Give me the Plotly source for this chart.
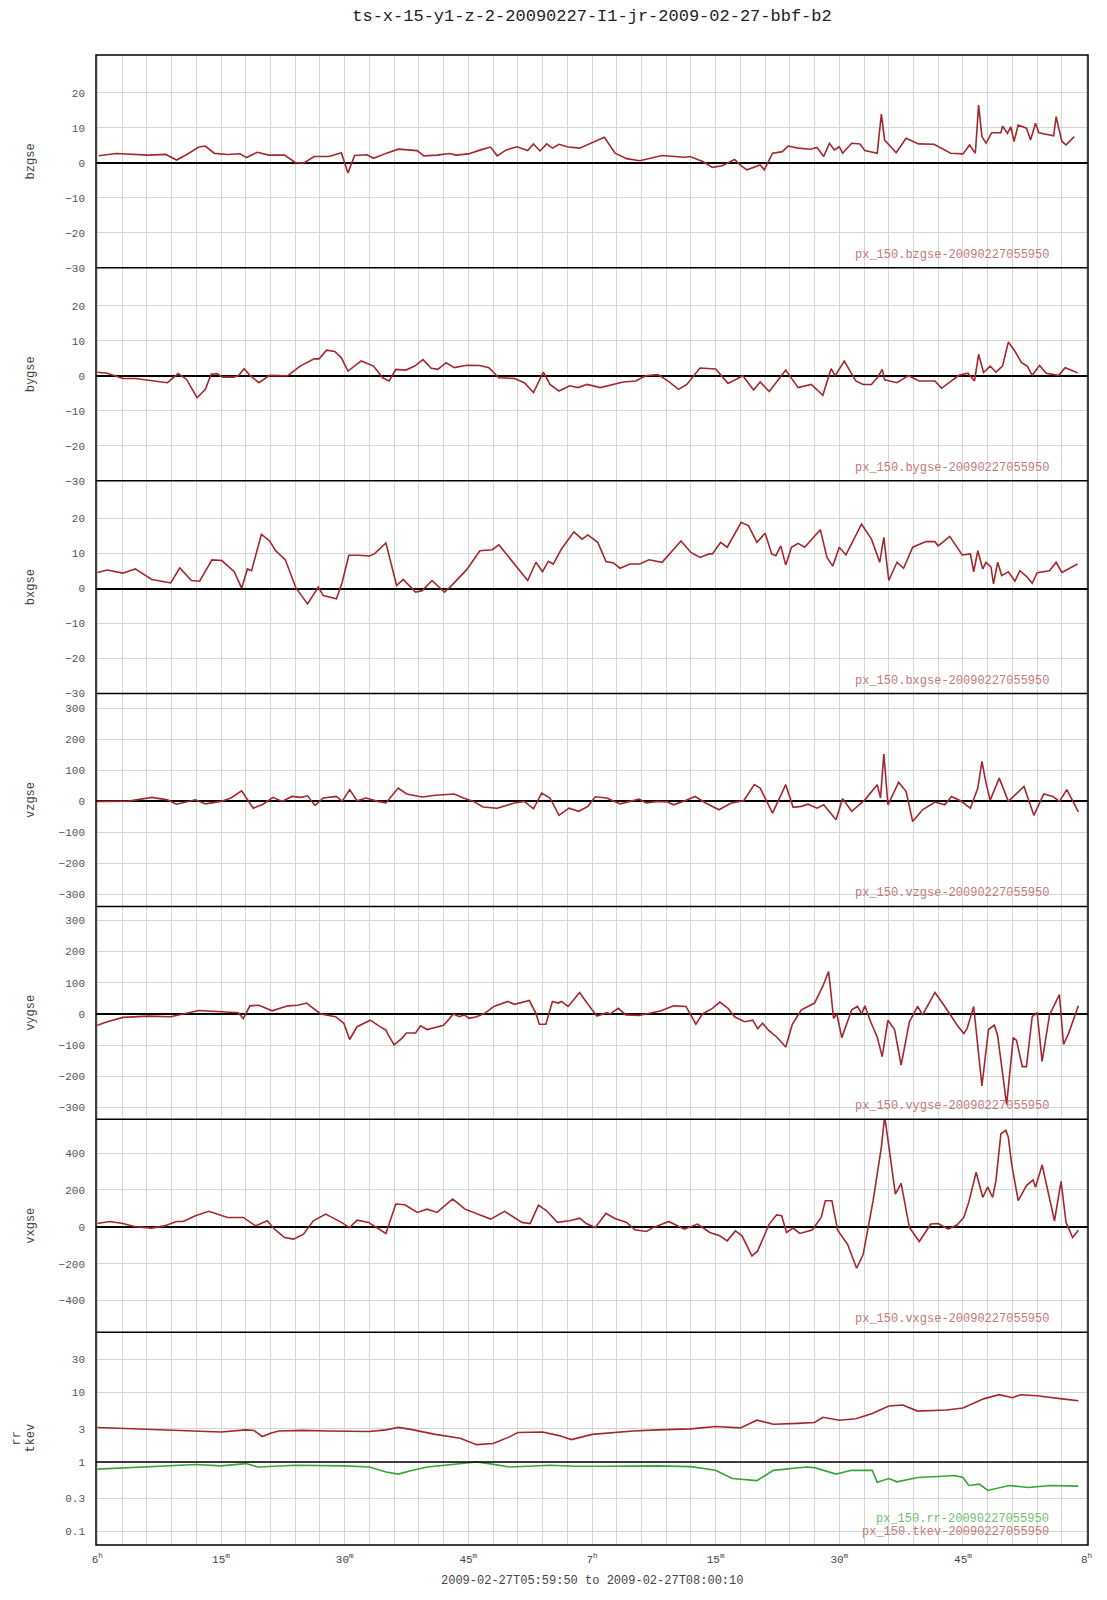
import plotly.graph_objects as go

# ---------------- data (time in minutes after 06:00) ----------------
bz_t = [0.15, 2.3, 6.15, 8.3, 9.6, 10.8, 12.3, 13.1, 14.2, 15.8, 17.3, 18.1, 19.4, 20.8, 22.7, 24, 25, 26.3, 28.1, 29.6,
        30.4, 31.2, 32.7, 33.5, 35, 36.5, 38.8, 39.6, 41.2, 42.7, 43.5, 45, 46.5, 47.7, 48.5, 49.6, 50.9, 52.2, 52.9, 53.7,
        54.5, 55.2, 56, 57.1, 58.5, 60, 61.5, 62.8, 64.2, 65.8, 68.5, 71.2, 71.9, 73.5, 74.6, 75.8, 77.3, 78.1, 78.8, 80.4,
        80.9, 81.9, 83.1, 83.8, 85, 86.5, 87.3, 88.1, 88.8, 89.4, 90, 90.4, 91.5, 92.5, 93.1, 94.6, 95.1, 95.5, 96.9, 98.1,
        98.8, 99.6, 101.5, 103.5, 105, 105.8, 106.5, 106.9, 107.3, 107.8, 108.5, 109.6, 109.8, 110.4, 110.8, 111.2, 111.7,
        112.7, 113.2, 113.8, 114.2, 116, 116.3, 117, 117.5, 118.5]
bz_v = [2.0, 2.65, 2.2, 2.4, 0.8, 2.3, 4.5, 4.8, 2.7, 2.4, 2.6, 1.5, 3.0, 2.2, 2.2, 0.1, -0.1, 1.8, 1.8, 2.9,
        -2.9, 2.1, 2.3, 1.3, 2.7, 3.9, 3.5, 2.0, 2.2, 2.65, 2.2, 2.55, 3.7, 4.5, 2.0, 3.7, 4.6, 3.5, 5.4, 3.4,
        5.4, 4.2, 5.3, 4.5, 4.2, 5.8, 7.3, 2.75, 1.2, 0.6, 2.1, 1.6, 1.8, 0.3, -1.3, -0.85, 0.95, -0.85, -2.0, -0.6,
        -2.0, 2.75, 3.2, 4.8, 4.2, 3.9, 4.4, 1.8, 5.6, 3.7, 4.6, 2.75, 5.6, 5.4, 3.5, 2.75, 13.9, 6.5, 2.9, 7.0,
        6.35, 5.4, 5.3, 2.75, 2.55, 5.1, 2.75, 16.5, 7.5, 5.6, 8.6, 8.6, 10.5, 8.4, 10.3, 6.1, 10.8,
        9.9, 6.5, 11.3, 8.6, 7.7, 13.2, 6.1, 5.1, 7.5]

by_t = [0, 1.2, 3.1, 4.6, 6.2, 8.5, 9.8, 10.8, 12.1, 13.1, 13.8, 14.5, 15.2, 16.5, 17.1, 17.8, 18.5, 19.6, 20.9, 23.1,
        24.6, 26.3, 26.9, 27.8, 28.8, 29.6, 30.4, 32, 33.5, 34.6, 35.4, 36.2, 37.4, 38.5, 39.5, 40.5, 41.3, 42.3, 43.3,
        44.8, 46.4, 47.5, 48.7, 50.6, 51.8, 52.9, 54.1, 54.9, 56, 57.3, 58.3, 59.4, 61, 62.6, 63.8, 65.3, 66.5, 68, 69.2,
        70.5, 71.5, 73.1, 75, 76.5, 78.3, 79.6, 80.4, 81.5, 83.5, 85, 86.6, 88, 89, 89.5, 90.6, 92, 92.9, 93.9, 94.7,
        95.2, 95.5, 97, 98.4, 99.7, 101.6, 102.4, 104.5, 105.6, 106.4, 106.9, 107.5, 108.3, 109, 109.8, 110.5, 111.3,
        112.1, 112.8, 113.4, 114.3, 115.1, 116.6, 117.4, 118.9]
by_v = [1.0, 0.7, -0.8, -0.8, -1.3, -2.0, 0.6, -1.0, -6.3, -3.9, 0.4, 0.6, -0.4, -0.4, 0.0, 2.0, 0.1, -2.0, 0.1, 0,
        2.75, 4.8, 4.8, 7.3, 6.9, 5.1, 1.3, 4.2, 2.75, -0.6, -1.5, 1.8, 1.6, 2.75, 4.6, 2.1, 1.8, 3.7, 2.3,
        3.0, 2.9, 2.3, -0.6, -0.8, -2.0, -4.8, 1.0, -2.5, -4.4, -2.9, -3.4, -2.5, -3.4, -2.5, -1.8, -1.5, 0, 0.3, -1.5,
        -3.9, -2.5, 2.2, 1.9, -2.2, 0, -4.1, -1.8, -4.5, 1.6, -3.4, -2.5, -5.6, 2.0, 0, 4.2, -1.5, -2.5, -2.5, -0.3,
        1.8, -1.2, -2.0, 0, -1.5, -1.5, -3.6, 0.1, 0.7, -1.5, 6.1, 0.9, 2.75, 1.0, 2.75, 9.6, 7.0,
        3.7, 2.75, 0.1, 2.9, 0.7, 0.1, 2.3, 0.85]

bx_t = [0, 1.2, 3.1, 4.6, 6.6, 8.9, 10, 11.4, 12.4, 13.9, 15.1, 16.6, 17.5, 18.2, 18.7, 19.9, 20.9, 21.6, 22.8, 24.1,
        25.5, 26.8, 27.4, 29, 29.7, 30.5, 31.7, 33, 33.6, 35, 36.3, 37.1, 38.6, 39.4, 40.6, 42.1, 42.9, 44.8, 46.4,
        47.9, 48.7, 50.6, 52.2, 53.2, 54, 54.7, 55.3, 56.3, 57.8, 58.8, 59.5, 60.7, 61.7, 62.6, 63.4, 64.6, 65.8, 66.9,
        68.5, 70.8, 72, 73.1, 74.2, 74.6, 75.6, 76.4, 78.1, 79, 80, 81, 81.8, 82.3, 82.9, 83.5, 84.2, 85, 85.8, 87.7,
        88.5, 89.2, 90, 90.8, 92.7, 93.9, 94.9, 95.4, 96, 97, 97.8, 98.9, 100.5, 101.6, 102, 103.4, 104.9, 105.9, 106.3,
        106.8, 107.4, 107.8, 108.4, 108.7, 109.2, 109.7, 110.5, 111.3, 111.9, 112.7, 113.4, 114, 114.7, 115.5, 116.3,
        117, 118.9]
bx_v = [4.6, 5.3, 4.4, 5.6, 2.6, 1.6, 5.9, 2.3, 2.1, 8.2, 8.0, 4.8, 0.1, 5.6, 5.1, 15.5, 13.6, 10.9, 8.2, 0.1,
        -4.4, 0.4, -2.0, -2.9, 1.8, 9.5, 9.5, 9.3, 9.9, 13.0, 0.85, 2.6, -1.0, -0.6, 2.3, -1.0, 0.7, 5.4, 10.8,
        11.1, 12.5, 7.0, 2.3, 7.5, 4.8, 7.8, 7.0, 11.3, 16.2, 14.1, 15.3, 13.2, 7.7, 7.3, 5.8, 7.0, 7.0, 8.2,
        7.5, 13.6, 10.3, 8.9, 9.9, 9.9, 13.2, 11.8, 18.9, 17.9, 13.2, 15.8, 9.9, 9.4, 12.2, 6.7, 11.8, 12.9, 11.8, 16.8,
        8.9, 6.4, 11.8, 9.6, 18.4, 14.1, 7.5, 14.6, 2.3, 7.5, 5.8, 11.8, 13.4, 13.4, 12.2, 14.9, 9.6, 9.9, 4.8,
        10.8, 5.6, 7.5, 6.1, 1.3, 7.5, 3.7, 4.8, 2.1, 5.1, 3.5, 1.5, 4.5, 4.8, 5.1, 7.5,
        4.6, 7.0]

vz_t = [0, 2.3, 3.8, 6.6, 8.5, 9.6, 11.9, 13.1, 15, 16.2, 17.5, 18.9, 20.1, 21.3, 22.4, 23.6, 24.7, 25.5, 26.4, 27.4,
        29, 29.7, 30.6, 31.5, 32.6, 34, 35, 36.5, 37.5, 39.4, 41, 43.3, 44.4, 45.6, 46.8, 48.5, 50.6, 51.8, 52.9, 53.9,
        54.9, 56, 57.2, 58.4, 59.5, 60.4, 61.8, 63.4, 65.7, 66.6, 68, 69.2, 69.9, 71.3, 72.5, 73.8, 75.4, 76.9, 78.4,
        79.7, 80.4, 81.9, 83.5, 84.4, 85.4, 86.2, 87.3, 88.1, 88.8, 89.6, 90.4, 91.5, 93.1, 94.6, 95, 95.4, 95.9, 97.2,
        98.1, 98.9, 100.1, 101.6, 102.8, 103.6, 104.7, 105.9, 106.8, 107.3, 107.8, 108.3, 109.4, 110.5, 112.4, 113.6,
        114.8, 115.9, 116.7, 117.6, 119]
vz_v = [-1, 1, 0, 12, 4, -10, 4, -9, -1, 10, 33, -23, -10, 12, -1, 15, 12, 17, -14, 10,
        15, -1, 37, 1, 10, -1, -6, 42, 23, 13, 19, 23, 10, -1, -19, -23, -6, -1, -25, 26,
        10, -46, -23, -33, -17, 14, 10, -9, 6, -6, -1, -3, -12, 1, 15, -6, -28, -6, 1,
        53, 42, -39, 53, -20, -17, -10, -23, -12, -33, -60, 8, -33, 4, 53, 10, 152, -12, 61,
        31, -66, -28, -3, -12, 15, 1, -23, 42, 128, 58, 3, 74, -1, 47, -46,
        23, 15, -1, 37, -35]

vy_t = [0, 1.2, 3.1, 6.2, 8.9, 10.6, 12.3, 14.6, 17.1, 17.7, 18.5, 19.6, 21.2, 23.1, 24.3, 25.4, 25.8, 27.1, 28.9,
        29.9, 30.6, 31.5, 33.1, 34.2, 35, 35.2, 36, 36.9, 37.5, 38.6, 39.2, 40, 41.2, 42, 43.2, 43.9, 44.5, 45.1, 46,
        47, 48.1, 49.8, 50.6, 52.4, 53.2, 53.6, 54.4, 55.2, 55.9, 56.3, 57.1, 58.5, 59.4, 60.6, 61.8, 62.2, 63.2, 64.1,
        65.7, 66.8, 68.4, 69.9, 71.4, 72.6, 73.4, 74.6, 75.5, 76.5, 77.3, 78.5, 79.5, 80.1, 80.7, 81.4, 82.4, 83.5,
        84.3, 85.4, 87, 88, 88.7, 88.9, 89.3, 89.7, 90.3, 91.5, 92.2, 92.7, 93.1, 93.8, 94.6, 95.2, 95.9, 96.7, 97.5,
        98.5, 99.5, 100.1, 101.6, 102.8, 104.3, 105.1, 105.5, 106.3, 107.3, 108.1, 108.8, 109.2, 110.3, 111.1, 111.5,
        112.2, 112.7, 113.4, 114, 114.6, 115.5, 116.7, 117.2, 117.8, 119]
vy_v = [-36, -25, -11, -7, -9, 2, 11, 8, 4, -15, 26, 28, 10, 26, 28, 35, 26, 0, -9,
        -30, -82, -41, -20, -39, -52, -63, -99, -79, -61, -61, -38, -50, -43, -36, 0, -9, -3, -14, -9,
        2, 24, 40, 31, 43, 2, -33, -33, 40, 35, 40, 24, 69, 35, -7, 4, 0, 18, -3,
        -5, 2, 10, 26, 24, -33, 0, 18, 38, 18, -9, -25, -20, -47, -30, -52, -74, -106,
        -33, 13, 35, 89, 136, 89, -14, 0, -76, 13, 24, 0, 26, -25, -74, -137, -20, -50, -164,
        -25, 24, -3, 69, 24, -36, -63, -47, 24, -231, -50, -36, -68, -291, -76, -85,
        -169, -169, -9, 4, -152, -3, 62, -98, -63, 26]

vx_t = [0, 1.5, 3.1, 4.6, 6.6, 8.1, 9.6, 10.4, 11.9, 13.5, 15.8, 17.7, 19.2, 20.6, 21.5, 22.7, 23.8, 25, 26.2, 27.7,
        29.6, 30.6, 31.5, 32.9, 35, 36.2, 37.3, 38.8, 40, 41.2, 43.1, 44.6, 47.7, 49.4, 51.5, 52.5, 53.5, 54.5, 55.8,
        57.3, 58.5, 59.3, 60.4, 61.7, 62.7, 64.2, 65.2, 66.6, 67.3, 69.3, 71.2, 72.8, 74.3, 75.5, 76.4, 77.4, 78.2,
        79.4, 80.1, 81.5, 82.4, 83, 83.6, 84.4, 85.2, 86.7, 87.8, 88.3, 89.1, 89.8, 91, 92.1, 92.9, 94.1, 95.1, 95.5,
        95.8, 96.8, 97.5, 98.5, 99.7, 101.1, 102, 103.2, 104.3, 105.1, 105.7, 106.6, 107.4, 108, 108.6, 109, 109.6,
        110.2, 110.5, 110.9, 111.7, 112.7, 113.5, 113.8, 114.6, 115.2, 116.1, 116.9, 117.5, 118.3, 119]
vx_v = [18, 29, 18, 0, -7, 5, 29, 29, 60, 84, 51, 51, 5, 33, -13, -58, -67, -40, 33, 69,
        24, -4, 36, 24, -36, 124, 120, 78, 96, 78, 151, 96, 42, 84, 24, 18, 118, 87, 24,
        33, 47, 18, -4, 73, 47, 24, -16, -25, -7, 29, -13, 15, -31, -49, -76, -22, -49,
        -158, -131, 15, 65, 60, -31, -7, -36, -18, 51, 142, 142, -18, -95, -225, -149, 142, 433, 600,
        505, 178, 236, -4, -80, 15, 18, -13, 11, 51, 133, 296, 160, 215, 160, 251, 505,
        524, 487, 342, 142, 224, 255, 215, 336, 215, 33, 247, 24, -58, -18]

tkev_t = [0, 4, 9, 12, 15, 18, 19, 20, 21, 22, 25, 28, 31, 33, 35, 36.5, 38, 41, 44, 46, 48, 50, 51, 54, 56, 57.5, 60,
          62.4, 65, 68, 72, 75, 77, 78, 80, 82, 85, 87, 88, 90, 92, 94, 96, 97.7, 99.5, 101, 103, 105, 106, 107.5,
          109.4, 111, 112, 114, 117, 119]
tkev_v = [3.14, 3.0, 2.85, 2.8, 2.7, 2.9, 2.85, 2.33, 2.6, 2.8, 2.85, 2.8, 2.75, 2.75, 2.9, 3.15, 2.95, 2.5, 2.2,
          1.78, 1.85, 2.3, 2.66, 2.7, 2.4, 2.1, 2.5, 2.66, 2.8, 2.9, 3.0, 3.25, 3.1, 3.1, 4.0, 3.5, 3.6, 3.7, 4.4, 4.0,
          4.2, 5.0, 6.4, 6.6, 5.4, 5.5, 5.6, 6.0, 6.8, 8.1, 9.3, 8.4, 9.3, 9.0, 8.1, 7.6]

rr_t = [0, 9, 12, 15, 18, 19.5, 24, 30, 33, 35, 36.5, 38, 40, 43, 46, 47.5, 50, 55, 58, 62, 68, 72, 75, 77, 80, 82,
        86, 87, 89.6, 91.5, 94, 94.6, 96, 97, 99.5, 102, 104, 105, 105.7, 107, 108, 110.6, 113, 115.6, 119]
rr_v = [0.79, 0.89, 0.92, 0.88, 0.95, 0.85, 0.9, 0.88, 0.85, 0.72, 0.67, 0.75, 0.85, 0.92, 1.0, 0.95, 0.85, 0.9,
        0.87, 0.87, 0.88, 0.86, 0.76, 0.58, 0.54, 0.76, 0.85, 0.83, 0.67, 0.76, 0.76, 0.51, 0.58, 0.52, 0.6, 0.62,
        0.64, 0.6, 0.46, 0.48, 0.39, 0.46, 0.43, 0.46, 0.45]

names = ["bzgse", "bygse", "bxgse", "vzgse", "vygse", "vxgse"]
series_t = [bz_t, by_t, bx_t, vz_t, vy_t, vx_t]
series_v = [bz_v, by_v, bx_v, vz_v, vy_v, vx_v]
y_ranges = [[-30, 30.8], [-30, 30.8], [-30, 30.8], [-340, 347], [-338, 345], [-572, 584]]
y_ticks = [[20, 10, 0, -10, -20, -30]] * 3 + [[300, 200, 100, 0, -100, -200, -300]] * 2 + [[400, 200, 0, -200, -400]]
log_ticks = [30, 10, 3, 1, 0.3, 0.1]
log_range = [-1.193, 1.868]
x_tickvals = [0, 15, 30, 45, 60, 75, 90, 105, 120]
x_ticktext = ["6<sup>h</sup>", "15<sup>m</sup>", "30<sup>m</sup>", "45<sup>m</sup>", "7<sup>h</sup>",
              "15<sup>m</sup>", "30<sup>m</sup>", "45<sup>m</sup>", "8<sup>h</sup>"]

# ---------------- figure ----------------
RED = "#a3282c"
GREEN = "#35a535"
GRID = "#d6d6d6"
FONT = "Liberation Mono"
N = 7

# the page body adds an 8 px offset; size the figure so the plot lands where the reference has it
OFF = 8
W, H = 1107 - OFF, 1600 - OFF
ML, MR, MT, MB = 96 - OFF, 19, 55 - OFF, 55
plot_w = W - ML - MR
plot_h = H - MT - MB

fig = go.Figure()
for i in range(6):
    yname = "y" if i == 0 else f"y{i+1}"
    fig.add_trace(go.Scatter(x=series_t[i], y=series_v[i], mode="lines", xaxis="x", yaxis=yname,
                             line=dict(color=RED, width=1.6), showlegend=False, hoverinfo="skip"))
fig.add_trace(go.Scatter(x=tkev_t, y=tkev_v, mode="lines", xaxis="x", yaxis="y7",
                         line=dict(color=RED, width=1.6), showlegend=False))
fig.add_trace(go.Scatter(x=rr_t, y=rr_v, mode="lines", xaxis="x", yaxis="y7",
                         line=dict(color=GREEN, width=1.6), showlegend=False))

layout = dict(
    template="none",
    width=W, height=H,
    margin=dict(l=ML, r=MR, t=MT, b=MB, autoexpand=False),
    paper_bgcolor="white", plot_bgcolor="white",
    title=dict(text="ts-x-15-y1-z-2-20090227-I1-jr-2009-02-27-bbf-b2", x=0.5, xref="paper",
               y=1 - (15 - OFF) / H, yanchor="middle", font=dict(family=FONT, size=17, color="#222")),
    xaxis=dict(domain=[0, 1], anchor="y7", range=[-1 / 6, 120 + 1 / 6], tickvals=x_tickvals,
               ticktext=x_ticktext, showgrid=True, gridcolor=GRID, gridwidth=1, zeroline=False,
               showline=False, ticks="", automargin=False, ticklabelstandoff=6,
               tickfont=dict(family=FONT, size=11, color="#444"),
               minor=dict(dtick=3, tick0=0, showgrid=True, gridcolor=GRID, gridwidth=1)),
)
for i in range(N):
    key = "yaxis" if i == 0 else f"yaxis{i+1}"
    dom = [1 - (i + 1) / N, 1 - i / N]
    ax = dict(domain=dom, anchor="x", showgrid=True, gridcolor=GRID, gridwidth=1, ticks="",
              showline=False, automargin=False,
              tickfont=dict(family=FONT, size=11, color="#555"), ticklabelstandoff=10)
    if i < 6:
        ax.update(range=y_ranges[i], tickvals=y_ticks[i], zeroline=True, zerolinecolor="black",
                  zerolinewidth=1.5)
    else:
        ax.update(type="log", range=log_range, tickvals=log_ticks, ticktext=[str(v) for v in log_ticks],
                  zeroline=False)
    layout[key] = ax

shapes = [dict(type="rect", xref="paper", yref="paper", x0=0, x1=1, y0=0, y1=1,
               line=dict(color="black", width=1.5))]
for k in range(1, N):
    shapes.append(dict(type="line", xref="paper", yref="paper", x0=0, x1=1, y0=k / N, y1=k / N,
                       line=dict(color="black", width=1.5)))
# reference line at 1 on the log panel (paper coords)
y_one = (0 - log_range[0]) / (log_range[1] - log_range[0]) / N
shapes.append(dict(type="line", xref="paper", yref="paper", x0=0, x1=1, y0=y_one, y1=y_one,
                   line=dict(color="black", width=1.5)))
layout["shapes"] = shapes

ann = []
lbl_x = (31 - 96) / plot_w
name_x = (1051 - 96) / plot_w
for i, nm in enumerate(names):
    mid = 1 - (i + 0.5) / N
    ann.append(dict(text=nm, xref="paper", yref="paper", x=lbl_x, y=mid, textangle=-90, showarrow=False,
                    xanchor="center", yanchor="middle", font=dict(family=FONT, size=12, color="#444")))
    ann.append(dict(text=f"px_150.{nm}-20090227055950", xref="paper", yref="paper", x=name_x,
                    y=1 - (i + 1) / N, xanchor="right", yanchor="bottom", yshift=4, showarrow=False,
                    font=dict(family=FONT, size=12, color="#c47a7a")))
ann.append(dict(text="rr", xref="paper", yref="paper", x=(17 - 96) / plot_w, y=0.5 / N, textangle=-90,
                showarrow=False, xanchor="center", yanchor="middle", font=dict(family=FONT, size=12, color="#444")))
ann.append(dict(text="tkev", xref="paper", yref="paper", x=lbl_x, y=0.5 / N, textangle=-90,
                showarrow=False, xanchor="center", yanchor="middle", font=dict(family=FONT, size=12, color="#444")))
ann.append(dict(text="px_150.rr-20090227055950", xref="paper", yref="paper", x=name_x, y=0,
                xanchor="right", yanchor="bottom", yshift=17, showarrow=False,
                font=dict(family=FONT, size=12, color="#6fbf6f")))
ann.append(dict(text="px_150.tkev-20090227055950", xref="paper", yref="paper", x=name_x, y=0,
                xanchor="right", yanchor="bottom", yshift=4, showarrow=False,
                font=dict(family=FONT, size=12, color="#c47a7a")))
ann.append(dict(text="2009-02-27T05:59:50 to 2009-02-27T08:00:10", xref="paper", yref="paper", x=0.5,
                y=-(1581 - 1545) / plot_h, xanchor="center", yanchor="middle", showarrow=False,
                font=dict(family=FONT, size=12, color="#444")))
layout["annotations"] = ann

fig.update_layout(**layout)
fig.write_html("out.html")
